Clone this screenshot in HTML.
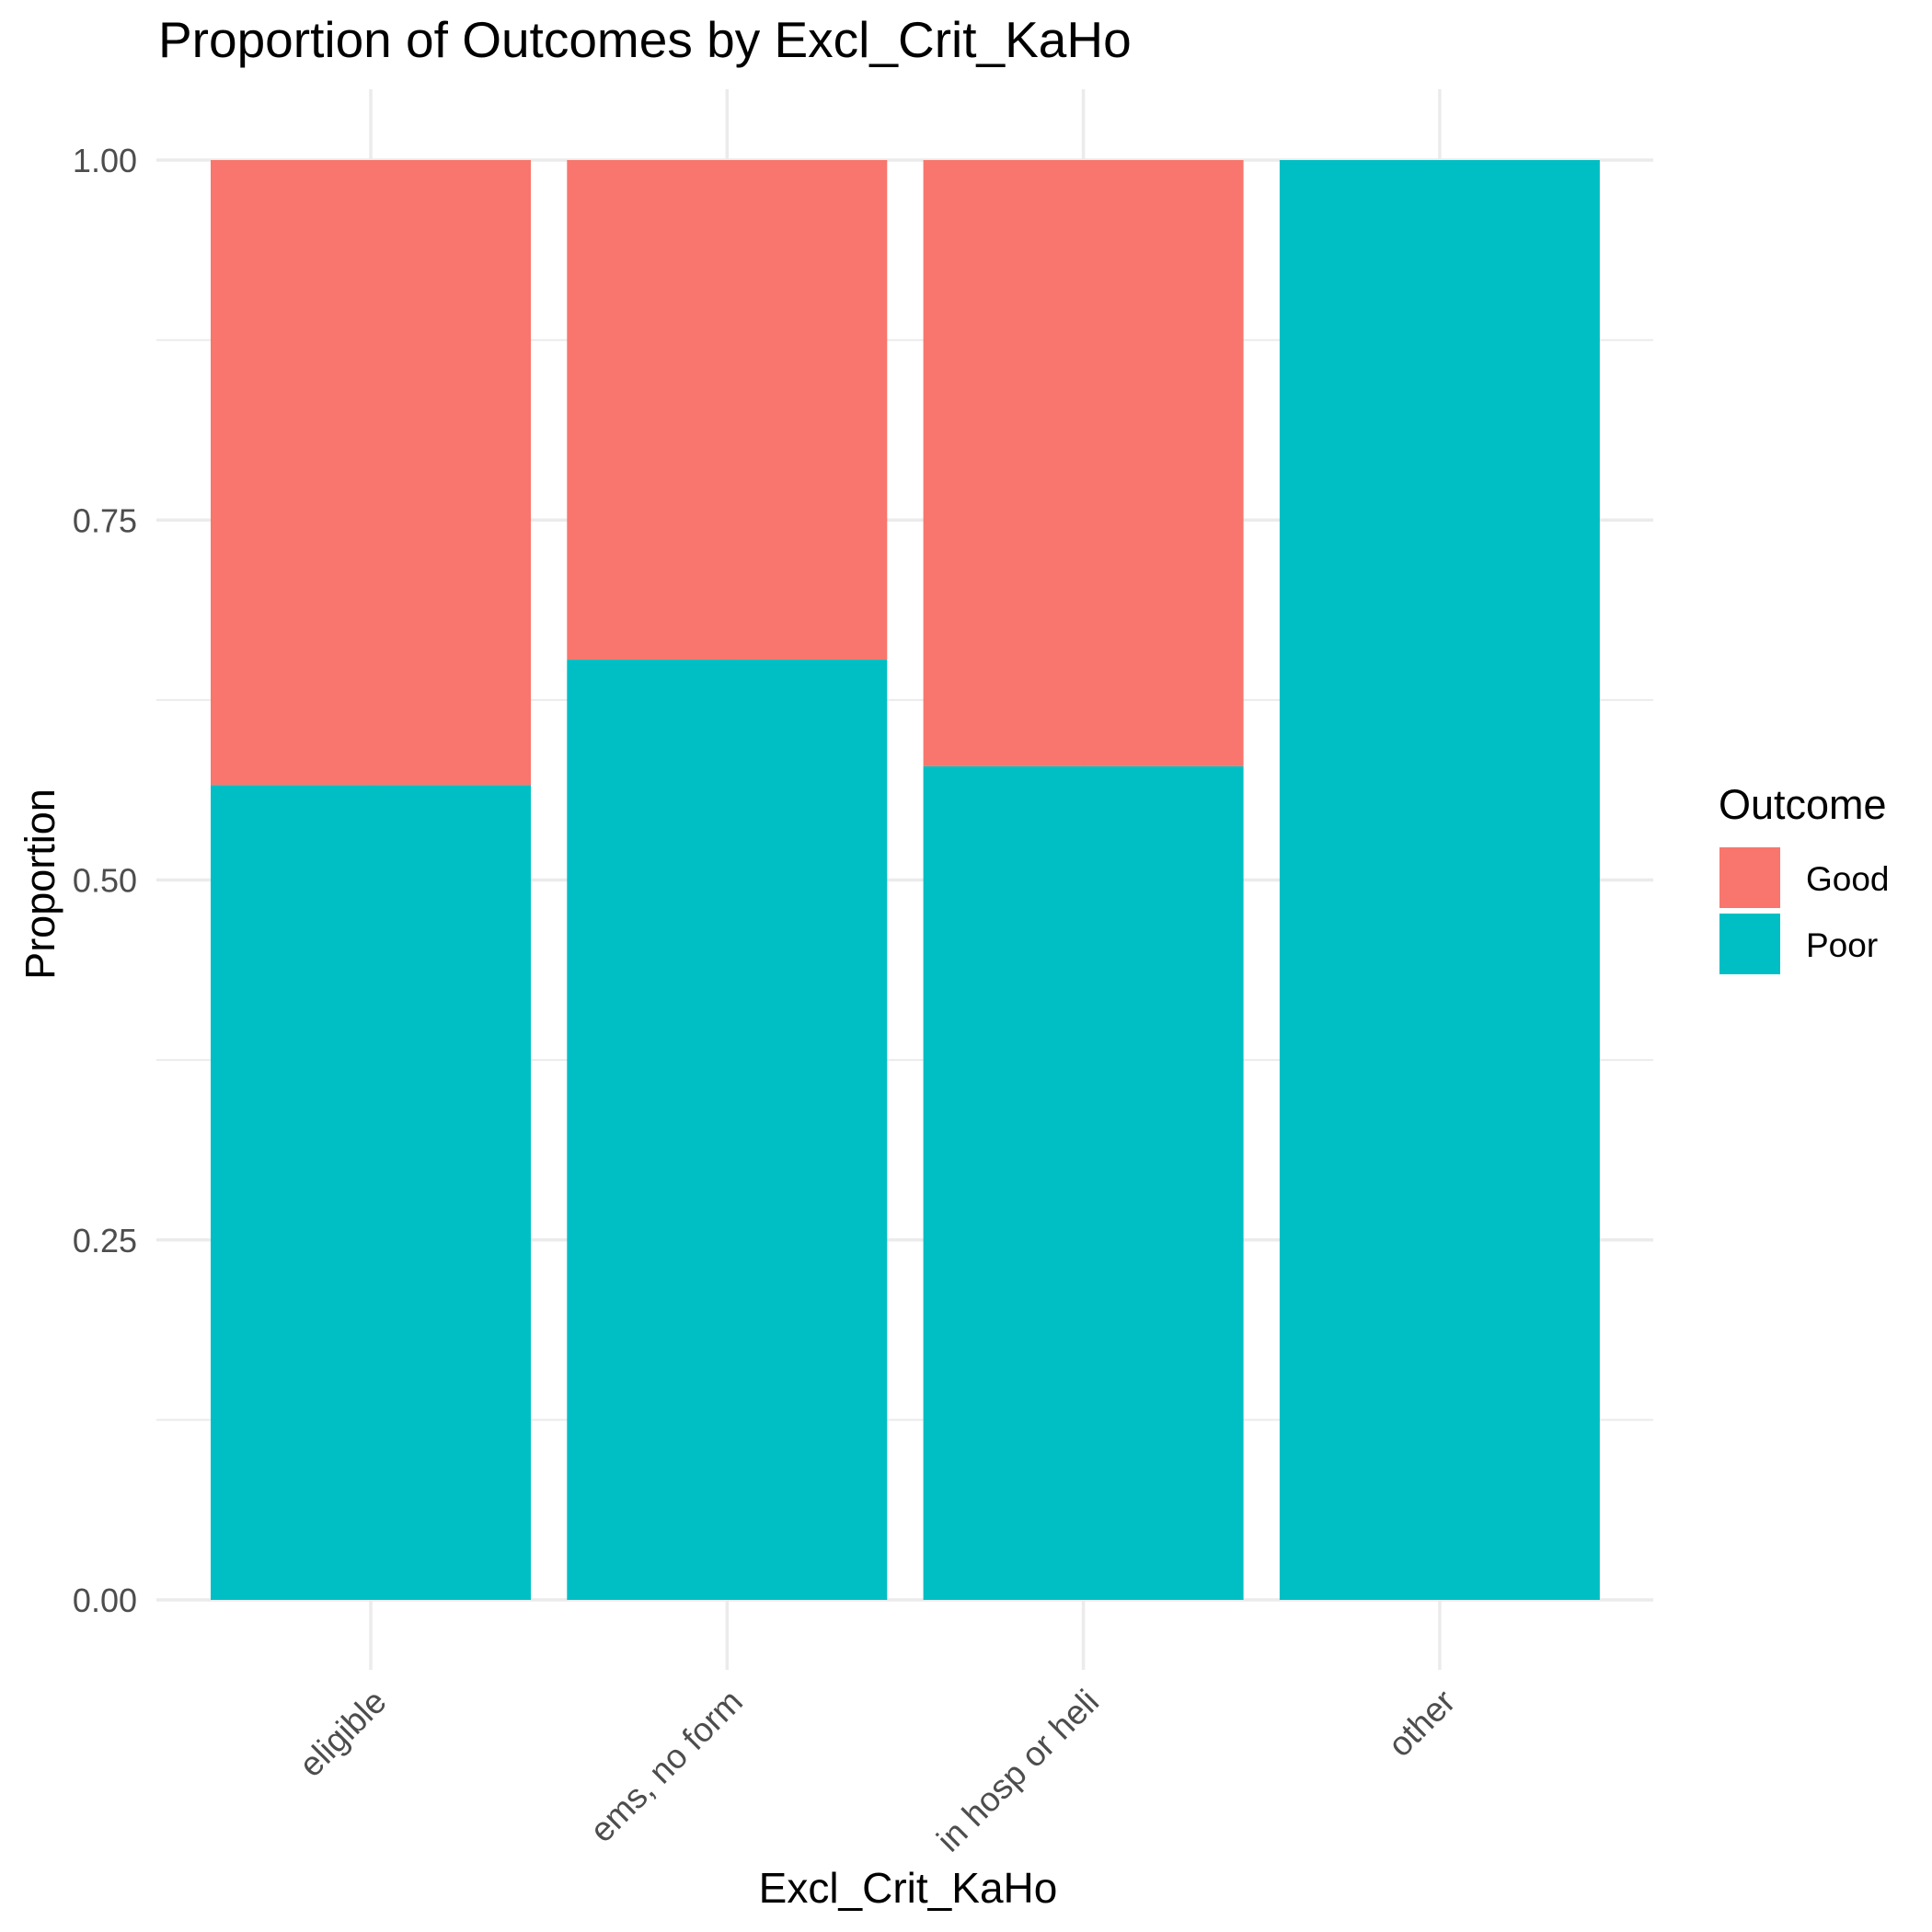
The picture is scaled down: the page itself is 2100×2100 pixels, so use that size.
<!DOCTYPE html>
<html><head><meta charset="utf-8"><style>
html,body{margin:0;padding:0;background:#fff;}
svg{display:block;font-family:"Liberation Sans",Arial,sans-serif;}
</style></head><body>
<svg id="chart" width="2100" height="2100" viewBox="0 0 2100 2100" xmlns="http://www.w3.org/2000/svg">
<text x="172" y="62" font-size="55" fill="#000">Proportion of Outcomes by Excl_Crit_KaHo</text>
<g id="grid"></g>
<g id="bars"></g>
<g id="yticks"></g>
<g id="xticks"></g>
<text x="987" y="2068" font-size="46" text-anchor="middle" fill="#000">Excl_Crit_KaHo</text>
<text x="0" y="0" font-size="45" text-anchor="middle" fill="#000" transform="translate(59,961) rotate(-90)">Proportion</text>
<g>
<text x="1868" y="890" font-size="45" fill="#000">Outcome</text>
<rect x="1869" y="921" width="66" height="66" fill="#F8766D"/>
<text x="1963" y="968" font-size="37" fill="#000">Good</text>
<rect x="1869" y="993" width="66" height="66" fill="#00BFC4"/>
<text x="1963" y="1040" font-size="37" fill="#000">Poor</text>
</g>
</svg>
<script>
const categories = ["eligible", "ems, no form", "in hosp or heli", "other"];
const poorValues = [0.566, 0.653, 0.579, 1.0];
const goodValues = [0.434, 0.347, 0.421, 0.0];
const yTicks = [0, 0.25, 0.5, 0.75, 1.0];
const yTickLabels = ["0.00", "0.25", "0.50", "0.75", "1.00"];

const NS = "http://www.w3.org/2000/svg";
const y0 = 1739, y1 = 174;
const yScale = v => y0 - v * (y0 - y1);
const xStart = 403, step = 387.3;
const xScale = i => xStart + i * step;
const barW = 348;
const panelL = 170, panelR = 1797, panelT = 97, panelB = 1815;

function mk(tag, attrs, parent) {
  const e = document.createElementNS(NS, tag);
  for (const k in attrs) e.setAttribute(k, attrs[k]);
  parent.appendChild(e);
  return e;
}
const grid = document.getElementById('grid');
const bars = document.getElementById('bars');
const yt = document.getElementById('yticks');
const xt = document.getElementById('xticks');

for (let i = 0; i < yTicks.length - 1; i++) {
  const m = (yTicks[i] + yTicks[i + 1]) / 2;
  const l = mk('line', {x1: panelL, x2: panelR, y1: yScale(m), y2: yScale(m), stroke: '#ebebeb', 'stroke-width': 2}, grid);
  
  
}
yTicks.forEach((v, i) => {
  const l = mk('line', {x1: panelL, x2: panelR, y1: yScale(v), y2: yScale(v), stroke: '#ebebeb', 'stroke-width': 3.5}, grid);
  
  
  const t = mk('text', {x: 149, y: yScale(v) + 13, 'font-size': 36, 'text-anchor': 'end', fill: '#4d4d4d'}, yt);
  t.textContent = yTickLabels[i];
  
  
});
categories.forEach((c, i) => {
  const x = xScale(i);
  const l = mk('line', {x1: x, x2: x, y1: panelT, y2: panelB, stroke: '#ebebeb', 'stroke-width': 3.5}, grid);
  
  
  const rp = mk('rect', {x: x - barW / 2, y: yScale(poorValues[i]), width: barW, height: yScale(0) - yScale(poorValues[i]), fill: '#00BFC4'}, bars);
  
  
  if (goodValues[i] > 0) {
    const top = poorValues[i] + goodValues[i];
    const rg = mk('rect', {x: x - barW / 2, y: yScale(top), width: barW, height: yScale(poorValues[i]) - yScale(top), fill: '#F8766D'}, bars);
    
    
  }
  const t = mk('text', {x: 0, y: 0, 'font-size': 37, 'text-anchor': 'end', fill: '#4d4d4d', transform: `translate(${x + 19},${1852}) rotate(-45)`}, xt);
  t.textContent = c;
  
  
});
</script>
</body></html>
